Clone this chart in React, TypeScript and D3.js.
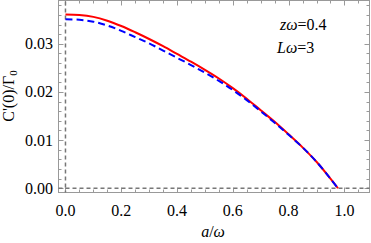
import React, { useEffect, useRef } from "react";
import * as d3 from "d3";

// values
const aValues = [0, 0.05, 0.1, 0.15, 0.2, 0.25, 0.3, 0.35, 0.4, 0.45, 0.5, 0.55, 0.6, 0.65, 0.7, 0.75, 0.8, 0.85, 0.9, 0.95, 0.977];
const redValues = [0.0361, 0.0360, 0.0356, 0.0348, 0.0337, 0.0324, 0.0310, 0.0295, 0.0279, 0.0263, 0.0246, 0.0228, 0.0208, 0.0186, 0.0162, 0.0138, 0.0112, 0.0085, 0.0055, 0.0020, 0.0];
const blueValues = [0.0351, 0.0350, 0.0346, 0.0338, 0.0327, 0.0314, 0.0301, 0.0286, 0.0271, 0.0256, 0.0240, 0.0223, 0.0204, 0.0183, 0.0160, 0.0136, 0.0111, 0.0085, 0.0055, 0.0020, 0.0];
const xTicks = [0, 0.2, 0.4, 0.6, 0.8, 1.0];
const yTicks = [0, 0.01, 0.02, 0.03];
const annotations = ["=0.4", "=3"];

const W = 371;
const H = 243;
const left = 58.5;
const right = 369.5;
const top = 0.5;
const bottom = 192.5;

const App = () => {
  const ref = useRef<SVGSVGElement>(null);

  useEffect(() => {
    const svg = d3.select(ref.current);
    svg.selectAll("*").remove();

    const x = d3.scaleLinear().domain([-0.025, 1.09]).range([left, right]);
    const y = d3.scaleLinear().domain([-0.00088, 0.039]).range([bottom, top]);
    const font = "'Liberation Serif', Tinos, 'Times New Roman', Times, 'DejaVu Serif', 'Noto Serif', serif";
    const tickColor = "#999";

    // frame
    svg.append("rect")
      .attr("x", left).attr("y", top)
      .attr("width", right - left).attr("height", bottom - top)
      .attr("fill", "none").attr("stroke", "#999").attr("stroke-width", 1);

    // frame ticks on all four sides
    const xMinor = d3.range(0, 1.0801, 0.05);
    xMinor.forEach((v) => {
      const major = xTicks.some((t) => Math.abs(t - v) < 1e-6);
      const len = major ? 5 : 3;
      const px = Math.round(x(v)) + 0.5;
      svg.append("line").attr("x1", px).attr("x2", px).attr("y1", bottom).attr("y2", bottom - len).attr("stroke", tickColor);
      svg.append("line").attr("x1", px).attr("x2", px).attr("y1", top).attr("y2", top + len).attr("stroke", tickColor);
    });
    const yMinor = d3.range(0, 0.0381, 0.002);
    yMinor.forEach((v) => {
      const major = yTicks.some((t) => Math.abs(t - v) < 1e-6);
      const len = major ? 5 : 3;
      const py = Math.round(y(v)) + 0.5;
      svg.append("line").attr("y1", py).attr("y2", py).attr("x1", left).attr("x2", left + len).attr("stroke", tickColor);
      svg.append("line").attr("y1", py).attr("y2", py).attr("x1", right).attr("x2", right - len).attr("stroke", tickColor);
    });

    // tick labels
    svg.append("g").selectAll("text").data(xTicks).join("text")
      .attr("x", (d) => x(d)).attr("y", 216)
      .attr("text-anchor", "middle")
      .style("font-family", font).style("font-size", "16px")
      .text((d) => d.toFixed(1));
    svg.append("g").selectAll("text").data(yTicks).join("text")
      .attr("x", 53).attr("y", (d) => y(d) + 5.5)
      .attr("text-anchor", "end")
      .style("font-family", font).style("font-size", "16px")
      .text((d) => d.toFixed(2));

    // dashed reference lines
    svg.append("line")
      .attr("x1", x(0)).attr("x2", x(0)).attr("y1", top + 1).attr("y2", bottom)
      .attr("stroke", "#777").attr("stroke-width", 1.5).attr("stroke-dasharray", "4,3");
    svg.append("line")
      .attr("x1", left).attr("x2", right).attr("y1", y(0)).attr("y2", y(0))
      .attr("stroke", "#777").attr("stroke-width", 1.5).attr("stroke-dasharray", "4,3");

    const line = d3.line<number>()
      .x((_, i) => x(aValues[i]))
      .y((d) => y(d))
      .curve(d3.curveCatmullRom);

    svg.append("path").attr("d", line(redValues))
      .attr("fill", "none").attr("stroke", "#ff0000").attr("stroke-width", 2);
    svg.append("path").attr("d", line(blueValues))
      .attr("fill", "none").attr("stroke", "#0000ff").attr("stroke-width", 2)
      .attr("stroke-dasharray", "7,4");

    // annotations
    const t1 = svg.append("text").attr("x", 280).attr("y", 30)
      .style("font-family", font).style("font-size", "16px");
    t1.append("tspan").style("font-style", "italic").text("zω");
    t1.append("tspan").text(annotations[0]);
    const t2 = svg.append("text").attr("x", 277).attr("y", 53)
      .style("font-family", font).style("font-size", "16px");
    t2.append("tspan").style("font-style", "italic").text("Lω");
    t2.append("tspan").text(annotations[1]);

    // axis labels
    const xl = svg.append("text").attr("x", 213).attr("y", 237)
      .attr("text-anchor", "middle")
      .style("font-family", font).style("font-size", "16px");
    xl.append("tspan").style("font-style", "italic").text("a");
    xl.append("tspan").text("/");
    xl.append("tspan").style("font-style", "italic").text("ω");

    const yl = svg.append("text")
      .attr("transform", "translate(14,96) rotate(-90)")
      .attr("text-anchor", "middle")
      .style("font-family", font).style("font-size", "16px");
    yl.append("tspan").text("C'(0)/Γ");
    yl.append("tspan").style("font-size", "11px").attr("dy", 3).text("0");
  }, []);

  return (
    <svg ref={ref} width={W} height={H} style={{ position: "absolute", left: 0, top: 0, background: "#fff" }} />
  );
};

export default App;
